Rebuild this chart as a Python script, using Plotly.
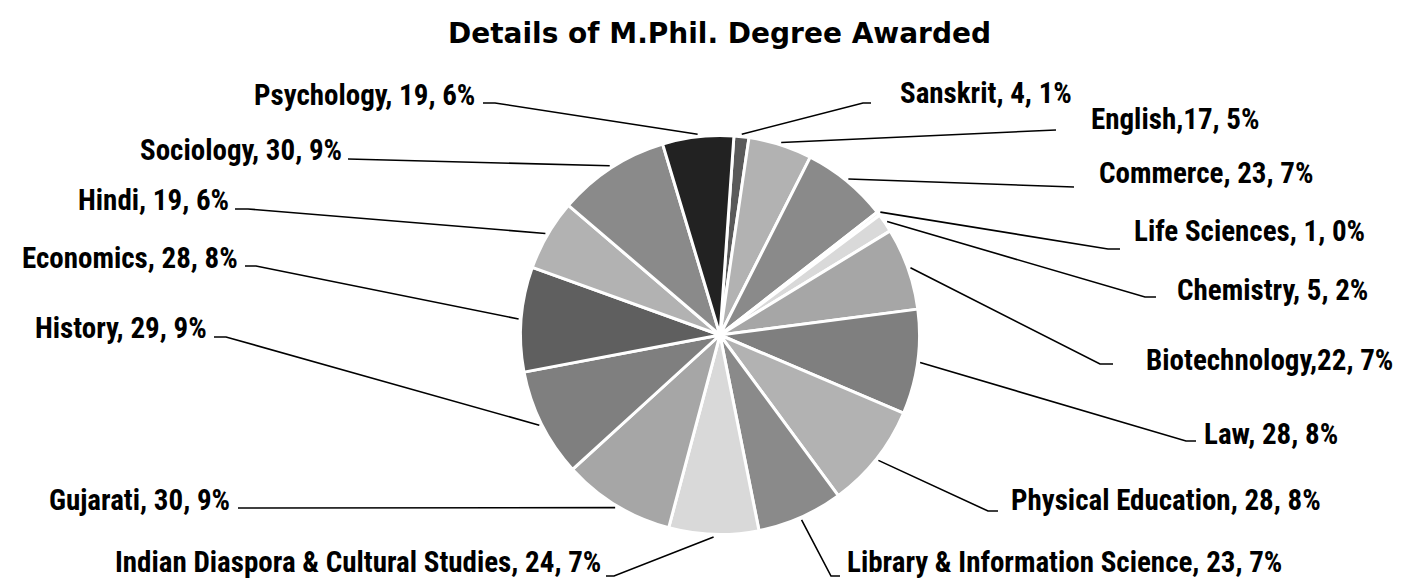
import math
import plotly.graph_objects as go

# ---------------- data ----------------
subjects = ["Sanskrit", "English", "Commerce", "Life Sciences", "Chemistry",
            "Biotechnology", "Law", "Physical Education",
            "Library & Information Science", "Indian Diaspora & Cultural Studies",
            "Gujarati", "History", "Economics", "Hindi", "Sociology", "Psychology"]
degrees = [4, 17, 23, 1, 5, 22, 28, 28, 23, 24, 30, 29, 28, 19, 30, 19]
name_sep = [", ", ",", ", ", ", ", ", ", ",", ", ", ", ", ", ", ", ",
            ", ", ", ", ", ", ", ", ", ", ", "]
title_text = "Details of M.Phil. Degree Awarded"

# ---------------- style / layout ----------------
colors = ["#5a5a5a", "#b2b2b2", "#8a8a8a", "#f2f2f2", "#d9d9d9",
          "#a6a6a6", "#7f7f7f", "#b2b2b2", "#8a8a8a", "#d9d9d9",
          "#a6a6a6", "#7f7f7f", "#5f5f5f", "#b2b2b2", "#8a8a8a", "#222222"]
W, H = 1407, 579
CX, CY, R = 712, 327, 199.5     # pie centre / radius in px
ROT = 4                          # start angle (deg clockwise from 12 o'clock)
R_ANCHOR = 202

# label placement (px): side, text x edge, baseline y, elbow point, line end
label_pos = [
    ("L", 891, 93, (855, 95), (863, 95)),
    ("L", 1082, 119, None, (1048, 122)),
    ("L", 1090, 173, None, (1066, 179)),
    ("L", 1125, 231, (1100, 241), (1112, 241)),
    ("L", 1168, 290, (1137, 289), (1148, 289)),
    ("L", 1137, 360, (1092, 356), (1105, 356)),
    ("L", 1195, 434, (1178, 433), (1188, 433)),
    ("L", 1002, 500, (980, 503), (990, 503)),
    ("L", 838, 573, (823, 568), (832, 568)),
    ("R", 594, 573, (606, 568), (598, 568)),
    ("R", 223, 500, None, (230, 500)),
    ("R", 200, 328, (218, 329), (206, 329)),
    ("R", 231, 258, (248, 258), (237, 258)),
    ("R", 222, 200, (240, 201), (227, 201)),
    ("R", 335, 150, None, (340, 151)),
    ("R", 468, 95, (487, 95), (475, 95)),
]

LABEL_SIZE = 29
LABEL_FONT = dict(family="Liberation Sans Narrow, Arial Narrow, Roboto Condensed, Liberation Sans, sans-serif",
                  size=LABEL_SIZE, color="#000000", weight="bold")


def px(x):
    return x / W


def py(y):
    return 1 - y / H


total = sum(degrees)

fig = go.Figure()
fig.add_trace(go.Pie(
    labels=subjects,
    values=degrees,
    sort=False,
    direction="clockwise",
    rotation=ROT,
    textinfo="none",
    hoverinfo="label+value+percent",
    marker=dict(colors=colors, line=dict(color="#ffffff", width=3)),
    domain=dict(x=[px(CX - 260), px(CX + 260)], y=[py(CY + R), py(CY - R)]),
    showlegend=False,
))

shapes = []
annotations = []
cum = 0
for name, val, sep, pos in zip(subjects, degrees, name_sep, label_pos):
    mid = ROT + (cum + val / 2) / total * 360
    cum += val
    a = math.radians(mid)
    ax = CX + R_ANCHOR * math.sin(a)
    ay = CY - R_ANCHOR * math.cos(a)
    side, tx, base, elbow, end = pos
    pts = [(ax, ay)]
    if elbow is not None:
        pts.append(elbow)
    pts.append(end)
    path = "M " + " L ".join(f"{px(x):.5f},{py(y):.5f}" for x, y in pts)
    shapes.append(dict(type="path", path=path, xref="paper", yref="paper",
                       line=dict(color="#000000", width=1.6)))
    pct = round(val / total * 100)
    text = f"{name}{sep}{val}, {pct}%"
    yc = min(base - 8, H - 25)
    annotations.append(dict(
        text=text, x=px(tx), y=py(yc), xref="paper", yref="paper",
        xanchor="left" if side == "L" else "right", yanchor="middle",
        showarrow=False, font=LABEL_FONT, borderpad=0,
    ))

annotations.append(dict(
    text=title_text, x=px(CX), y=py(25), xref="paper", yref="paper",
    xanchor="center", yanchor="middle", showarrow=False,
    font=dict(family="Arial Black, DejaVu Sans, sans-serif", size=28,
              color="#000000", weight="bold"),
))

fig.update_layout(
    width=W, height=H,
    margin=dict(l=0, r=0, t=0, b=0),
    paper_bgcolor="#ffffff", plot_bgcolor="#ffffff",
    shapes=shapes, annotations=annotations,
)

fig.write_html("out.html")
